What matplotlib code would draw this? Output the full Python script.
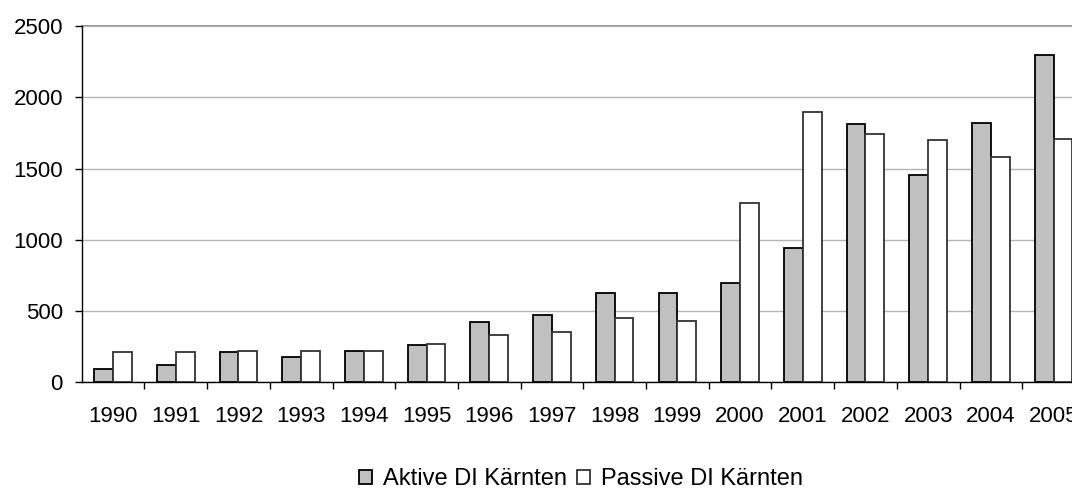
import numpy as np
import matplotlib
matplotlib.use("Agg")
import matplotlib.pyplot as plt

plt.rcParams['font.family'] = ['Liberation Sans', 'DejaVu Sans']

years = ['1990', '1991', '1992', '1993', '1994', '1995', '1996', '1997',
         '1998', '1999', '2000', '2001', '2002', '2003', '2004', '2005']
aktive = [90, 120, 210, 180, 220, 260, 420, 470, 630, 630, 695, 940, 1810, 1455, 1820, 2300]
passive = [210, 210, 220, 220, 220, 270, 330, 355, 450, 430, 1255, 1900, 1740, 1700, 1580, 1710]

fig = plt.figure(figsize=(10.72, 4.9), dpi=100)
# plot area runs past the right edge, like the original (2005 gets cut)
ax = fig.add_axes([81.7 / 1072, 107.7 / 490, 1003.2 / 1072, 356.3 / 490])

x = np.arange(len(years))
w = 0.3
b1 = ax.bar(x - w / 2, aktive, w, color='#c0c0c0', edgecolor='#000000', linewidth=1.3,
            label='Aktive DI Kärnten', zorder=3)
b2 = ax.bar(x + w / 2, passive, w, color='white', edgecolor='#333333', linewidth=1.3,
            label='Passive DI Kärnten', zorder=3)

ax.set_xlim(-0.5, len(years) - 0.5)
ax.set_ylim(0, 2500)
ax.set_yticks([0, 500, 1000, 1500, 2000, 2500])
ax.yaxis.grid(True, color='#b4b4b4', linewidth=1.0, zorder=0)
ax.axhline(2500, color='#808080', linewidth=1.2, zorder=1, clip_on=False)

ax.set_xticks(x)
ax.set_xticklabels(years)
ax.set_xticks(np.arange(len(years)) + 0.5, minor=True)
ax.tick_params(axis='x', which='major', length=0, pad=17, labelsize=16)
ax.tick_params(axis='x', which='minor', length=5, width=1, color='#000000', direction='out')
ax.tick_params(axis='y', length=5, width=1, pad=8.5, labelsize=16, direction='out')

for s in ['top', 'right']:
    ax.spines[s].set_visible(False)
ax.spines['left'].set_color('#000000')
ax.spines['bottom'].set_color('#000000')
ax.spines['left'].set_linewidth(1.0)
ax.spines['bottom'].set_linewidth(1.0)

fig.legend(handles=[b1, b2], loc='center', bbox_to_anchor=(581 / 1072, 1 - 479 / 490),
           ncol=2, frameon=False, fontsize=17, handlelength=0.55, handleheight=0.55,
           handletextpad=0.45, columnspacing=0.45, borderaxespad=0)

fig.savefig('out.png', dpi=100)
